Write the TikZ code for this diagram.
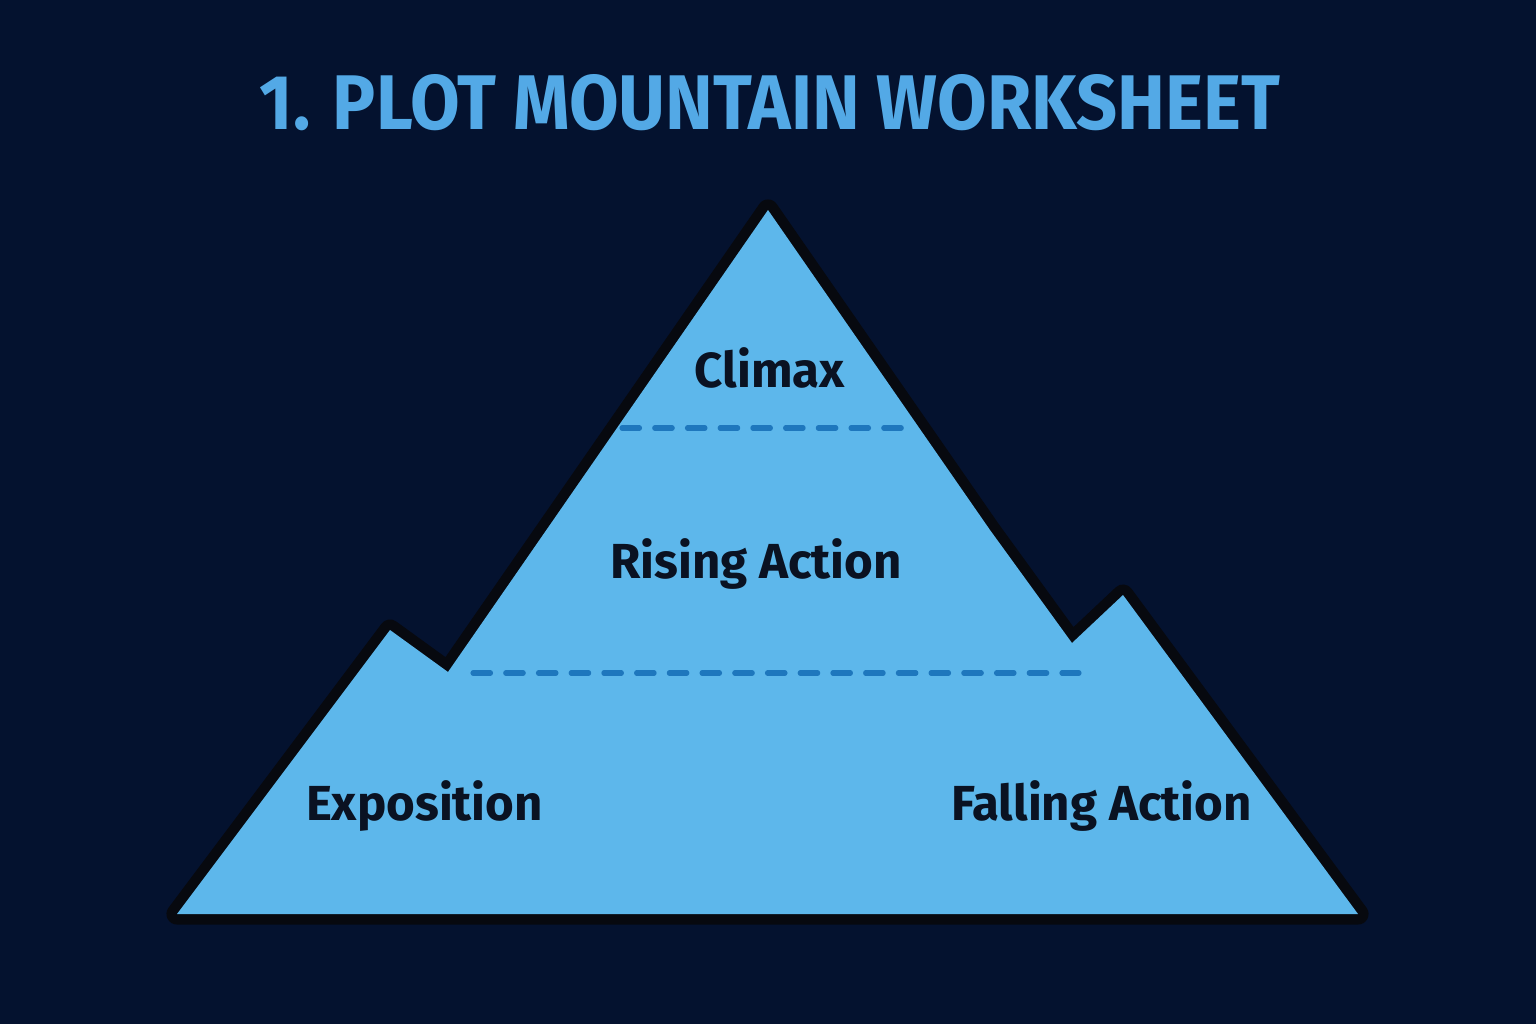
\documentclass[tikz,border=0pt]{standalone}
\usepackage{fontspec}
\usepackage{graphicx}
\setmainfont{Fira Sans}
\usetikzlibrary{positioning, calc, backgrounds}
\definecolor{nightBlue}{HTML}{04122F}
\definecolor{peakBlue}{HTML}{5DB7EB}
\definecolor{titleBlue}{HTML}{53A9E6}
\definecolor{dashBlue}{HTML}{1E77BD}
\definecolor{inkBlack}{HTML}{0A1222}
\definecolor{rimBlack}{HTML}{07090F}

\begin{document}
\begin{tikzpicture}[
    x=0.01cm, y=-0.01cm,
    label/.style={anchor=base, font=\fontsize{14}{17}\selectfont\bfseries, text=inkBlack, inner sep=0pt},
    mountain/.style={fill=peakBlue, preaction={draw=rimBlack, line width=6pt, line join=round}},
    divider/.style={draw=dashBlue, line width=1.45pt, line cap=round, dash pattern=on 0.175cm off 0.152cm},
]
    \fill[nightBlue] (0,0) rectangle (1536,1024);
    \useasboundingbox (0,0) rectangle (1536,1024);

    \node[text=titleBlue, inner sep=0pt] (title) at (770,102.5)
        {\resizebox{10.2cm}{0.55cm}{\bfseries 1. PLOT MOUNTAIN WORKSHEET}};

    % mountain outline
    \path[mountain] (177,914) -- (390,630) -- (448,672) -- (768,210) -- (990,530)
        -- (1072,643) -- (1123,595) -- (1358,914) -- cycle;

    % section dividers
    \draw[divider] (622,428) -- (908,428);
    \draw[divider] (473,673) -- (1079,673);

    \node[label] (climax) at (770,387) {Climax};
    \node[label] (rising) at (756,578) {Rising Action};
    \node[label] (expo) at (424.5,820) {Exposition};
    \node[label] (falling) at (1101.5,820) {Falling Action};
\end{tikzpicture}
\end{document}
